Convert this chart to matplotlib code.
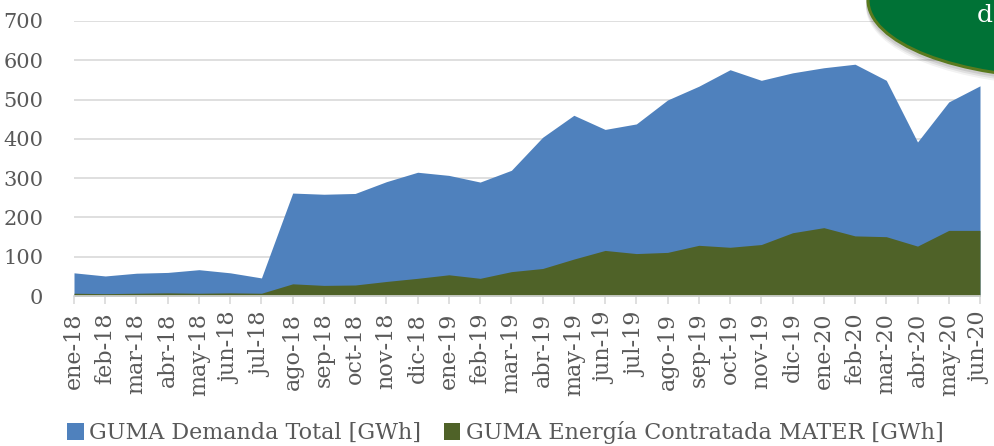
import matplotlib
matplotlib.use("Agg")
import matplotlib.pyplot as plt
from matplotlib.patches import Ellipse
import numpy as np

months = ["ene-18", "feb-18", "mar-18", "abr-18", "may-18", "jun-18", "jul-18", "ago-18",
          "sep-18", "oct-18", "nov-18", "dic-18", "ene-19", "feb-19", "mar-19", "abr-19",
          "may-19", "jun-19", "jul-19", "ago-19", "sep-19", "oct-19", "nov-19", "dic-19",
          "ene-20", "feb-20", "mar-20", "abr-20", "may-20", "jun-20"]
demanda_total = [59, 51, 58, 60, 67, 59, 46, 262, 259, 261, 291, 315, 307, 290, 320, 404,
                 460, 424, 438, 499, 534, 576, 549, 568, 581, 590, 549, 392, 494, 535]
energia_mater = [7, 6, 7, 8, 7, 8, 7, 31, 27, 28, 37, 45, 54, 45, 62, 70,
                 94, 116, 108, 111, 129, 124, 131, 161, 174, 153, 151, 127, 167, 167]

label_total = "GUMA Demanda Total [GWh]"
label_mater = "GUMA Energía Contratada MATER [GWh]"

blue = "#4F81BD"
green = "#4F6228"
txt = "#595959"
plt.rcParams['font.family'] = ['DejaVu Serif']

fig = plt.figure(figsize=(9.95, 4.46), dpi=100)
ax = fig.add_axes([74/995, 1-296/446, (980-74)/995, (296-21)/446])

x = np.arange(len(months))
ax.fill_between(x, 0, demanda_total, color=blue, linewidth=0, label=label_total, zorder=2)
ax.fill_between(x, 0, energia_mater, color=green, linewidth=0, label=label_mater, zorder=3)

ax.set_xlim(0, len(months) - 1)
ax.set_ylim(0, 700)
ax.set_yticks(range(0, 701, 100))
ax.yaxis.grid(True, color="#D9D9D9", linewidth=1.2, zorder=0)
ax.set_axisbelow(True)
for s in ["top", "right", "left"]:
    ax.spines[s].set_visible(False)
ax.spines["bottom"].set_color("#D9D9D9")
ax.spines["bottom"].set_linewidth(1.2)
ax.spines["bottom"].set_zorder(4)
ax.tick_params(axis="y", length=0, labelsize=15, labelcolor=txt, pad=22)
ax.set_xticks(x)
ax.set_xticklabels(months, rotation=90, fontsize=16, color=txt)
ax.tick_params(axis="x", length=6, color="#D9D9D9", width=1.2, pad=6)

fig.legend(loc="center", bbox_to_anchor=(0.508, 0.03), ncol=2, frameon=False,
           fontsize=16, labelcolor=txt, handlelength=0.75, handleheight=0.75,
           handletextpad=0.25, columnspacing=1.0)

# callout decoration (top right)
W, H = 995, 446
cx, cy, ew, eh = 1068, 0, 400, 156
for dy, a in [(7, 0.05), (5, 0.07), (3, 0.09)]:
    sh = Ellipse(((cx - 1)/W, 1-(cy+dy)/H), (ew+2)/W, (eh+2)/H, transform=fig.transFigure,
                 facecolor="#000000", alpha=a, edgecolor="none", zorder=9)
    fig.patches.append(sh)
ell = Ellipse((cx/W, 1-cy/H), ew/W, eh/H, transform=fig.transFigure,
              facecolor="#007236", edgecolor="#5A7A1E", linewidth=2.2, zorder=10)
fig.patches.append(ell)
fig.text(977/W, 1-15/H, "d", color="white", fontsize=18, va="center", ha="left", zorder=11)

fig.savefig("out.png", dpi=100)
